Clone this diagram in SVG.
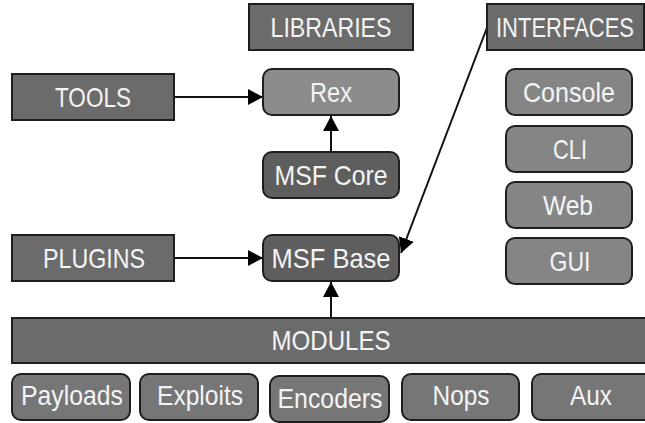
<svg xmlns="http://www.w3.org/2000/svg" width="645" height="423" viewBox="0 0 645 423">
<style>
.box{stroke:#1e1e1e;stroke-width:2}
.sq{fill:#6b6b6b}
.lib{fill:#8c8c8c}
.core{fill:#5e5e5e}
.itf{fill:#858585}
.mod{fill:#767676}
.t{font-family:"Liberation Sans",Arial,sans-serif;font-size:28px;fill:#f4f4f4;text-anchor:middle}
.ln{stroke:#111;stroke-width:2;fill:none}
</style>
<defs>
<marker id="ah" viewBox="0 0 15 16" refX="15" refY="8" markerWidth="15" markerHeight="16" markerUnits="userSpaceOnUse" orient="auto">
<path d="M0,0 L15,8 L0,16 Z" fill="#000"/>
</marker>
</defs>
<g id="connectors">
<line class="ln" x1="175" y1="97" x2="263" y2="97" marker-end="url(#ah)"/>
<line class="ln" x1="175" y1="258" x2="263" y2="258" marker-end="url(#ah)"/>
<line class="ln" x1="331" y1="152" x2="331" y2="116" marker-end="url(#ah)"/>
<line class="ln" x1="331" y1="317" x2="331" y2="282" marker-end="url(#ah)"/>
<line class="ln" x1="488" y1="25" x2="401" y2="253" marker-end="url(#ah)"/>
</g>
<g id="libraries"><rect class="box sq" x="249" y="4" width="164" height="46"/><text class="t" x="331" y="37" textLength="121" lengthAdjust="spacingAndGlyphs">LIBRARIES</text></g>
<g id="interfaces"><rect class="box sq" x="487" y="4" width="157" height="46"/><text class="t" transform="translate(565,37) scale(1,1.22)" x="0" y="0" style="font-size:22px">INTERFACES</text></g>
<g id="tools"><rect class="box sq" x="12" y="74" width="162" height="46"/><text class="t" x="93" y="107" textLength="76" lengthAdjust="spacingAndGlyphs">TOOLS</text></g>
<g id="rex"><rect class="box lib" x="263" y="69" width="136" height="46" rx="9"/><text class="t" x="331" y="102" textLength="42" lengthAdjust="spacingAndGlyphs">Rex</text></g>
<g id="msfcore"><rect class="box core" x="263" y="152" width="136" height="46" rx="9"/><text class="t" x="331" y="185" textLength="113" lengthAdjust="spacingAndGlyphs">MSF Core</text></g>
<g id="plugins"><rect class="box sq" x="12" y="235" width="162" height="46"/><text class="t" x="94" y="268" textLength="102" lengthAdjust="spacingAndGlyphs">PLUGINS</text></g>
<g id="msfbase"><rect class="box core" x="263" y="235" width="136" height="46" rx="9"/><text class="t" x="331" y="268" textLength="119" lengthAdjust="spacingAndGlyphs">MSF Base</text></g>
<g id="console"><rect class="box itf" x="506" y="69" width="126" height="46" rx="9"/><text class="t" x="569" y="102" textLength="92" lengthAdjust="spacingAndGlyphs">Console</text></g>
<g id="cli"><rect class="box itf" x="506" y="126" width="126" height="46" rx="9"/><text class="t" x="570" y="159" textLength="34" lengthAdjust="spacingAndGlyphs">CLI</text></g>
<g id="web"><rect class="box itf" x="506" y="182" width="126" height="46" rx="9"/><text class="t" x="568" y="215" textLength="50" lengthAdjust="spacingAndGlyphs">Web</text></g>
<g id="gui"><rect class="box itf" x="506" y="238" width="126" height="46" rx="9"/><text class="t" x="570" y="271" textLength="41" lengthAdjust="spacingAndGlyphs">GUI</text></g>
<g id="modules"><rect class="box sq" x="12" y="318" width="640" height="45"/><text class="t" x="331" y="350" textLength="119" lengthAdjust="spacingAndGlyphs">MODULES</text></g>
<g id="payloads"><rect class="box mod" x="12" y="374" width="118" height="46" rx="9"/><text class="t" x="72" y="405" textLength="102" lengthAdjust="spacingAndGlyphs">Payloads</text></g>
<g id="exploits"><rect class="box mod" x="140" y="374" width="118" height="46" rx="9"/><text class="t" x="200" y="405" textLength="86" lengthAdjust="spacingAndGlyphs">Exploits</text></g>
<g id="encoders"><rect class="box mod" x="270" y="376" width="119" height="46" rx="9"/><text class="t" x="330" y="408" textLength="105" lengthAdjust="spacingAndGlyphs">Encoders</text></g>
<g id="nops"><rect class="box mod" x="402" y="374" width="117" height="46" rx="9"/><text class="t" x="461" y="405" textLength="57" lengthAdjust="spacingAndGlyphs">Nops</text></g>
<g id="aux"><rect class="box mod" x="532" y="374" width="122" height="46" rx="9"/><text class="t" x="591" y="405" textLength="42" lengthAdjust="spacingAndGlyphs">Aux</text></g>
</svg>
